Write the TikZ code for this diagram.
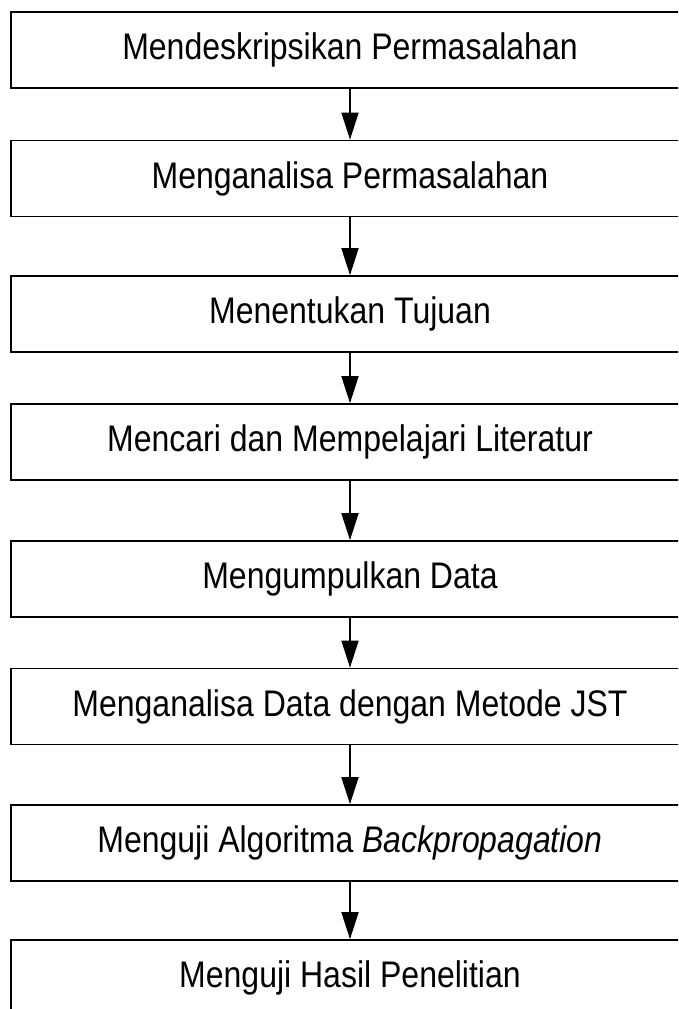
\documentclass[tikz,border=0pt]{standalone}
\usepackage{fontspec}
\setmainfont{Liberation Sans}
\newfontfamily\boxfont[FakeStretch=0.865]{Liberation Sans}
\usetikzlibrary{arrows.meta}
\begin{document}
\begin{tikzpicture}[x=1pt,y=-1pt,
  stepbox/.style={draw=black,line width=1.7pt,minimum width=678pt,minimum height=76pt,
    inner sep=0pt,font=\boxfont\fontsize{37}{44}\selectfont},
  flow/.style={line width=1.7pt,-{Triangle[length=27pt,width=17pt]}}]
\useasboundingbox (0,0) rectangle (678,1009);
\clip (0,0) rectangle (678,1009);
\fill[white] (0,0) rectangle (678,1009);
\node[stepbox] (b1) at (350,50) {Mendeskripsikan Permasalahan};
\node[stepbox] (b2) at (350,178.5) {Menganalisa Permasalahan};
\node[stepbox] (b3) at (350,314) {Menentukan Tujuan};
\node[stepbox] (b4) at (350,442) {Mencari dan Mempelajari Literatur};
\node[stepbox] (b5) at (350,579) {Mengumpulkan Data};
\node[stepbox] (b6) at (350,706.5) {Menganalisa Data dengan Metode JST};
\node[stepbox] (b7) at (350,843) {Menguji Algoritma \textit{Backpropagation}};
\node[stepbox] (b8) at (350,978) {Menguji Hasil Penelitian};
\foreach \a/\b in {b1/b2,b2/b3,b3/b4,b4/b5,b5/b6,b6/b7,b7/b8}
  \draw[flow] (\a.south) -- (\b.north);
\end{tikzpicture}
\end{document}
